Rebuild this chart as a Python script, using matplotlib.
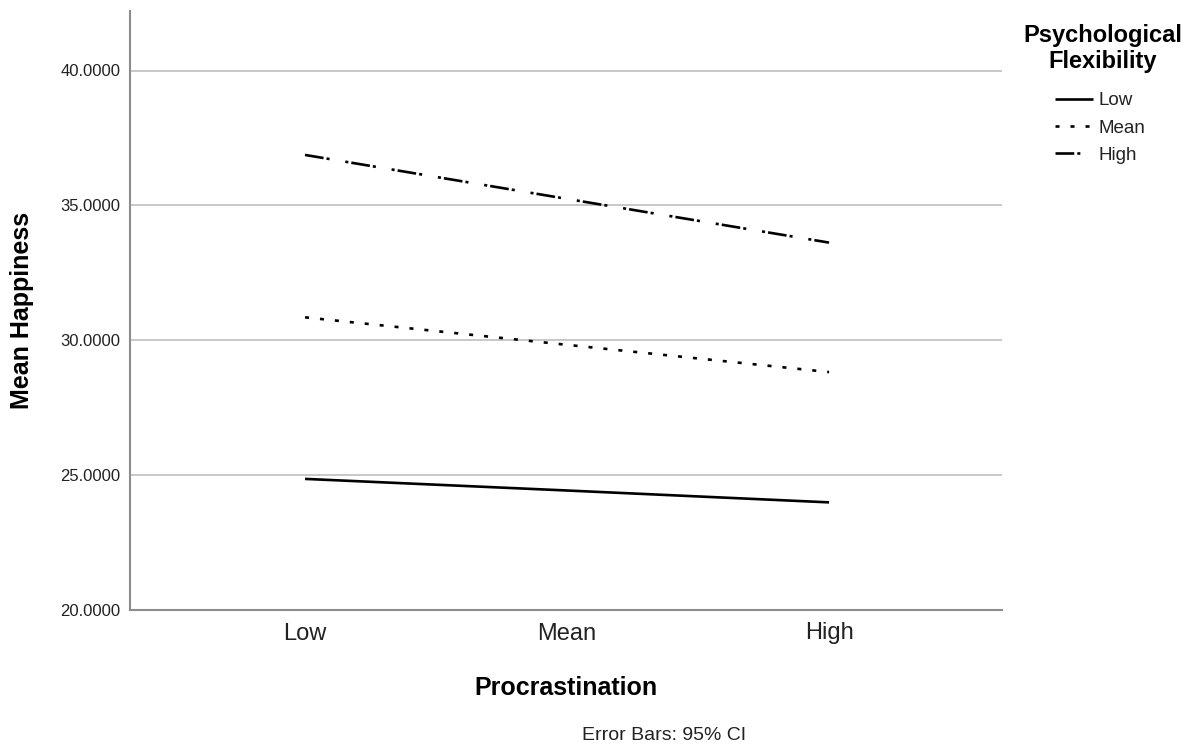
import matplotlib
matplotlib.use("Agg")
import matplotlib.pyplot as plt

# Data
categories = ["Low", "Mean", "High"]
series_names = ["Low", "Mean", "High"]
happiness_low = [24.86, 24.43, 23.99]
happiness_mean = [30.85, 29.83, 28.82]
happiness_high = [36.87, 35.24, 33.62]
y_ticks = [20, 25, 30, 35, 40]

plt.rcParams['font.family'] = ['Liberation Sans', 'DejaVu Sans']
plt.rcParams['lines.scale_dashes'] = False

fig = plt.figure(figsize=(11.99, 7.47), dpi=100)
ax = fig.add_axes([130/1199, 1-610/747, (1002-130)/1199, (610-11)/747])

x = list(range(len(categories)))
lw = 1.9
ax.plot(x, happiness_low, color='black', lw=lw, solid_capstyle='butt', label=series_names[0])
ax.plot(x, happiness_mean, color='black', lw=lw, linestyle=(0, (2.9, 7.9)), label=series_names[1])
ax.plot(x, happiness_high, color='black', lw=lw,
        linestyle=(0, (13.5, 2.2, 2.2, 11.5, 2.2, 2.2)), label=series_names[2])

ax.set_xlim(-0.668, 2.66)
ax.set_ylim(20, 20 + 599/26.975)
ax.set_yticks(y_ticks)
ax.set_yticklabels([f"{v:.4f}" for v in y_ticks])
ax.set_xticks(x)
ax.set_xticklabels(categories)

ax.grid(axis='y', color='#c8c8c8', lw=1.4)
ax.set_axisbelow(True)
for s in ['top', 'right']:
    ax.spines[s].set_visible(False)
for s in ['left', 'bottom']:
    ax.spines[s].set_color('#8c8c8c')
    ax.spines[s].set_linewidth(1.5)

ax.tick_params(axis='y', length=0, pad=7, labelsize=12, labelcolor='#222222')
ax.tick_params(axis='x', length=0, pad=9, labelsize=17, labelcolor='#222222')

ax.set_xlabel("Procrastination", fontsize=18, fontweight='bold')
ax.xaxis.label.set_va('center')
ax.xaxis.set_label_coords(0.5, (610-688)/599)
ax.set_ylabel("Mean Happiness", fontsize=18, fontweight='bold')
ax.yaxis.label.set_va('center')
ax.yaxis.set_label_coords((22-130)/872, 0.5)

leg = ax.legend(loc='upper left',
                bbox_to_anchor=(1055/1199, 1-92/747), bbox_transform=fig.transFigure,
                frameon=False, fontsize=13.5, handlelength=2.0, handletextpad=0.3,
                labelspacing=0.55, borderpad=0, borderaxespad=0)
for t in leg.get_texts():
    t.set_color('#222222')

fig.text(1103/1199, 1-48.5/747, "Psychological\nFlexibility", ha='center', va='center',
         multialignment='center', fontsize=17, fontweight='bold')

fig.text(664.5/1199, 1-735/747, "Error Bars: 95% CI", ha='center', va='center', fontsize=14, color='#222222')

fig.savefig("out.png", dpi=100)
